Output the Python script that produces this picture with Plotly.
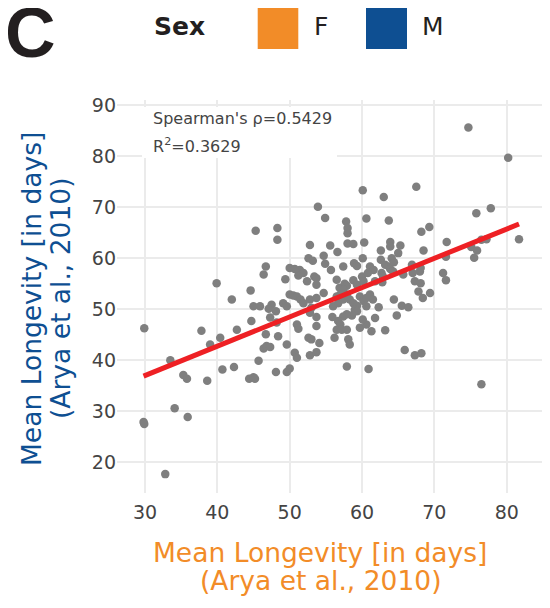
import plotly.graph_objects as go

# Mean longevity (Arya et al., 2010): x = females, y = males (days)
points = [
    (74.7,85.6),(80.2,79.7),(60.1,73.3),(67.5,74.0),(63.0,72.0),(53.9,70.1),(54.9,67.9),(57.8,67.2),
    (58.0,65.9),(60.6,67.8),(63.7,67.4),(75.8,68.8),(77.8,69.8),(48.3,65.9),(69.3,66.1),
    (45.3,65.4),(48.3,63.6),(58.0,64.9),(58.0,62.9),(58.8,62.8),(60.3,63.1),(68.2,65.2),(71.7,63.2),
    (76.5,63.6),(77.2,63.7),(81.7,63.7),(52.8,62.6),(55.6,62.5),(56.6,61.2),(63.9,63.2),(65.3,62.5),
    (63.9,62.3),(62.6,61.5),(68.5,61.5),(75.1,62.2),(75.9,61.5),(75.5,60.1),(71.6,60.3),(71.2,57.1),
    (71.6,55.7),(54.7,60.5),(52.6,60.0),(53.2,59.5),(54.9,58.9),(55.7,57.7),(57.4,58.4),(58.9,59.0),
    (59.3,58.5),(60.1,60.0),(61.1,58.4),(61.6,57.7),(62.6,59.7),(63.2,58.7),(63.7,58.4),(64.1,60.0),
    (64.4,59.2),(65.0,61.0),(63.9,57.9),(64.3,57.4),(62.7,57.1),(62.9,56.4),(62.8,55.3),(66.9,58.7),
    (67.0,57.1),(68.0,57.4),(68.1,58.1),(65.7,56.8),(67.3,55.5),(68.1,55.1),(67.8,53.5),(68.4,52.2),
    (69.4,53.2),(46.7,58.4),(46.4,56.8),(39.9,55.1),(50.0,58.1),(49.4,55.9),(51.4,57.7),(51.9,57.1),
    (51.2,56.6),(52.4,55.5),(53.4,56.4),(53.7,56.1),(53.7,54.8),(56.5,55.8),(56.9,54.2),(57.6,55.0),
    (57.9,54.6),(57.4,53.8),(58.8,55.7),(59.3,54.8),(60.0,56.4),(60.2,55.5),(60.8,57.1),(61.8,55.5),
    (54.7,53.2),(44.6,53.7),(42.0,51.9),(50.0,52.9),(50.5,52.7),(51.0,52.5),(51.5,51.9),(51.9,51.2),
    (52.8,51.9),(53.0,50.3),(53.7,52.2),(49.1,51.2),(49.6,50.6),(47.5,50.9),(48.1,49.6),(45.0,50.6),
    (45.9,50.6),(47.1,50.1),(56.0,50.6),(56.7,51.2),(57.4,51.9),(56.5,52.5),(57.0,52.9),(57.9,52.9),
    (58.3,51.9),(58.8,51.2),(59.3,50.7),(59.0,49.9),(59.7,52.5),(60.2,51.6),(60.6,52.2),(61.1,52.9),
    (61.5,51.9),(60.6,50.6),(62.3,50.4),(64.4,51.9),(65.5,50.7),(66.4,50.4),(64.8,48.8),(63.2,45.9),
    (61.8,48.3),(61.3,45.7),(59.7,46.4),(60.6,47.0),(60.1,48.0),(59.3,49.6),(58.6,48.8),(57.9,49.0),
    (57.4,48.6),(56.7,47.7),(57.0,47.0),(56.5,46.0),(57.2,46.0),(57.9,46.0),(56.2,44.4),(58.1,44.1),
    (58.3,43.1),(55.9,48.5),(53.7,48.5),(53.7,46.7),(52.8,49.3),(51.0,47.0),(51.2,46.2),(52.6,44.4),
    (53.0,44.1),(54.1,43.4),(52.8,41.0),(53.7,41.6),(49.6,43.1),(48.4,44.7),(46.7,45.1),(44.7,47.7),
    (42.7,46.0),(40.4,44.4),(39.0,43.1),(37.8,45.8),(29.9,46.3),(46.4,42.3),(46.8,42.8),(47.3,42.6),
    (50.7,41.5),(51.0,40.5),(45.7,39.9),(65.9,42.0),(67.3,41.0),(68.2,41.4),(57.9,38.8),(60.9,38.3),
    (33.5,40.0),(35.3,37.1),(35.8,36.4),(38.6,36.0),(40.7,38.2),(42.3,38.7),(44.4,36.4),(45.0,36.7),
    (45.2,36.4),(48.1,37.7),(49.6,37.7),(50.0,38.4),(76.5,35.3),(34.1,30.6),(35.9,28.9),(29.8,27.9),
    (29.9,27.5),(32.8,17.7),(50.7,57.9),(47.3,48.4),(48.2,47.4),
]
female_longevity = [p[0] for p in points]
male_longevity = [p[1] for p in points]

# regression line end points
fit_x = [29.8, 81.7]
fit_y = [36.9, 66.7]

x_ticks = [30, 40, 50, 60, 70, 80]
y_ticks = [20, 30, 40, 50, 60, 70, 80, 90]
stats_lines = ["Spearman's ρ=0.5429", "R<sup>2</sup>=0.3629"]
legend_title = "Sex"
legend_labels = ["F", "M"]
legend_colors = ["#F28C28", "#0E4F92"]
axis_title = ["Mean Longevity [in days]", "(Arya et al., 2010)"]
panel_label = "C"

FONT = "Verdana, DejaVu Sans, sans-serif"
OFF = 8  # page body margin
W, H = 542, 600
L, R, T, B = 117 - OFF, 545 - OFF, 100 - OFF, 493 - OFF


def px(x):
    return (x - OFF - L) / (R - L)


def py(y):
    return (B - (y - OFF)) / (B - T)


fig = go.Figure()
fig.add_trace(go.Scatter(
    x=female_longevity, y=male_longevity, mode="markers",
    marker=dict(color="#7F7F7F", size=8.5, line=dict(width=0)),
    showlegend=False, hoverinfo="x+y",
))
fig.add_trace(go.Scatter(
    x=fit_x, y=fit_y, mode="lines",
    line=dict(color="#EE2024", width=5), showlegend=False,
))

shapes = [
    # white box behind the statistics text
    dict(type="rect", xref="paper", yref="paper", x0=px(142), x1=px(337), y0=py(158), y1=py(107),
         fillcolor="white", line=dict(width=0), layer="above"),
    dict(type="rect", xref="paper", yref="paper", x0=px(257.7), x1=px(298.3), y0=py(49), y1=py(6),
         fillcolor=legend_colors[0], line=dict(width=0)),
    dict(type="rect", xref="paper", yref="paper", x0=px(366), x1=px(407), y0=py(49), y1=py(6),
         fillcolor=legend_colors[1], line=dict(width=0)),
]

ann = []
ann.append(dict(text=stats_lines[0], x=px(151), y=py(118.5), xanchor="left", yanchor="middle",
                font=dict(size=16, color="#444", family=FONT)))
ann.append(dict(text=stats_lines[1], x=px(151), y=py(145), xanchor="left", yanchor="middle",
                font=dict(size=16, color="#444", family=FONT)))
ann.append(dict(text="<b>" + panel_label + "</b>", x=px(3), y=py(33), xanchor="left", yanchor="middle",
                font=dict(size=70, color="#231F20", family="Liberation Sans, Arial, sans-serif")))
ann.append(dict(text="<b>" + legend_title + "</b>", x=px(152), y=py(26), xanchor="left", yanchor="middle",
                font=dict(size=25, color="#231F20", family=FONT)))
ann.append(dict(text=legend_labels[0], x=px(312), y=py(26), xanchor="left", yanchor="middle",
                font=dict(size=25, color="#231F20", family=FONT)))
ann.append(dict(text=legend_labels[1], x=px(420), y=py(26), xanchor="left", yanchor="middle",
                font=dict(size=25, color="#231F20", family=FONT)))
# axis titles
ann.append(dict(text=axis_title[0], x=px(320), y=py(552), xanchor="center", yanchor="middle",
                font=dict(size=26.5, color=legend_colors[0], family=FONT)))
ann.append(dict(text=axis_title[1], x=px(320), y=py(580), xanchor="center", yanchor="middle",
                font=dict(size=26.5, color=legend_colors[0], family=FONT)))
ann.append(dict(text=axis_title[0], x=px(31), y=py(299), xanchor="center", yanchor="middle", textangle=-90,
                font=dict(size=26.5, color=legend_colors[1], family=FONT)))
ann.append(dict(text=axis_title[1], x=px(60), y=py(299), xanchor="center", yanchor="middle", textangle=-90,
                font=dict(size=26.5, color=legend_colors[1], family=FONT)))
for a in ann:
    a.update(xref="paper", yref="paper", showarrow=False)

fig.update_layout(
    width=W, height=H,
    margin=dict(l=L, r=W - R, t=T, b=H - B, pad=0),
    paper_bgcolor="white", plot_bgcolor="white",
    font=dict(family=FONT, color="#444"),
    showlegend=False,
    shapes=shapes, annotations=ann,
    xaxis=dict(range=[26.13, 85.29], tickvals=x_ticks, showgrid=True, gridcolor="#EBEBEB", gridwidth=2,
               zeroline=False, showline=False, ticks="outside", ticklen=2, tickcolor="rgba(0,0,0,0)",
               tickfont=dict(size=19, color="#444", family=FONT)),
    yaxis=dict(range=[14.0, 91.0], tickvals=y_ticks, showgrid=True, gridcolor="#EBEBEB", gridwidth=2,
               zeroline=False, showline=False, ticks="", ticklen=0,
               tickfont=dict(size=19, color="#444", family=FONT)),
)

fig.write_html("out.html")
